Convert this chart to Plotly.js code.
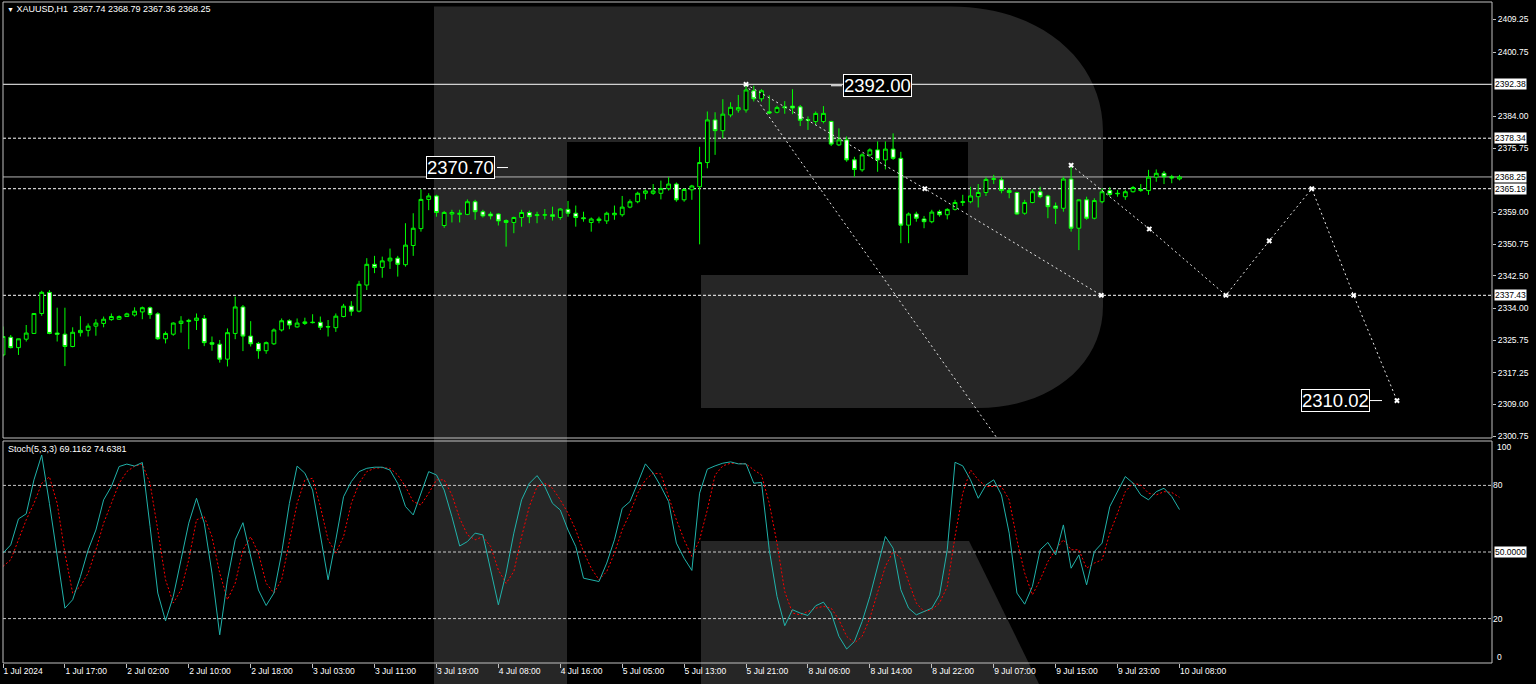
<!DOCTYPE html>
<html>
<head>
<meta charset="utf-8">
<script src="https://cdn.plot.ly/plotly-3.0.1.min.js"></script>
<style>
html,body{margin:0;padding:0;background:#000;overflow:hidden;}
#chart{width:1536px;height:684px;}
</style>
</head>
<body>
<div id="chart"></div>
<script>
// ---------------- DATA ----------------
const timeLabels = ['1 Jul 2024','1 Jul 17:00','2 Jul 02:00','2 Jul 10:00','2 Jul 18:00','3 Jul 03:00','3 Jul 11:00',
  '3 Jul 19:00','4 Jul 08:00','4 Jul 16:00','5 Jul 05:00','5 Jul 13:00','5 Jul 21:00','8 Jul 06:00','8 Jul 14:00',
  '8 Jul 22:00','9 Jul 07:00','9 Jul 15:00','9 Jul 23:00','10 Jul 08:00'];
const barsPerLabel = 8;

const open = [2321.9,2326.5,2323.8,2326.0,2327.5,2332.7,2338.2,2327.6,2327.3,2324.1,
2327.7,2328.3,2329.4,2330.1,2331.1,2331.2,2331.9,2332.3,2333.1,2334.2,
2332.6,2326.1,2327.3,2330.1,2330.6,2330.9,2331.4,2325.1,2324.7,2320.8,
2327.5,2334.4,2326.8,2324.9,2323.0,2324.8,2328.4,2330.8,2329.2,2330.1,
2330.3,2330.4,2329.3,2329.0,2331.9,2334.6,2333.3,2340.1,2345.5,2344.7,
2346.4,2347.1,2345.4,2350.4,2354.8,2362.4,2363.3,2355.6,2358.6,2358.5,
2358.5,2361.8,2359.2,2358.6,2358.6,2356.9,2356.4,2357.7,2359.0,2358.2,
2358.3,2358.4,2357.7,2359.8,2358.8,2357.6,2356.4,2356.9,2356.8,2358.4,
2358.4,2360.4,2361.8,2364.0,2364.0,2364.0,2365.2,2366.4,2362.3,2364.9,
2365.7,2372.0,2383.1,2380.3,2384.4,2385.7,2385.7,2390.7,2388.6,2385.2,
2385.1,2386.5,2386.7,2386.5,2383.2,2382.7,2382.7,2382.7,2376.6,2377.9,
2372.7,2370.1,2374.0,2375.3,2372.7,2375.5,2373.1,2355.7,2358.6,2357.3,
2356.6,2359.2,2358.4,2359.8,2361.6,2361.8,2363.1,2364.2,2367.6,2367.5,
2364.7,2364.2,2358.8,2361.6,2364.4,2363.3,2360.7,2360.1,2367.7,2354.9,
2362.3,2357.5,2361.8,2364.7,2364.0,2363.1,2364.4,2364.7,2364.7,2368.2,
2369.2,2368.3,2367.74];
const high = [2329.3,2327.1,2326.1,2329.7,2332.7,2338.6,2338.8,2334.2,2334.2,2329.1,
2332.0,2330.1,2331.2,2331.9,2332.7,2332.2,2332.9,2334.3,2334.5,2334.5,
2333.0,2328.0,2330.4,2332.0,2331.3,2332.7,2332.3,2326.7,2325.8,2328.8,
2337.1,2334.9,2330.7,2325.3,2325.4,2328.8,2331.4,2331.2,2331.4,2331.6,
2332.5,2331.9,2331.0,2332.7,2335.2,2335.9,2341.2,2347.1,2347.7,2347.5,
2349.6,2347.7,2356.2,2358.8,2365.0,2364.0,2363.6,2359.4,2359.7,2359.7,
2362.4,2362.3,2359.7,2359.2,2358.8,2357.2,2357.9,2359.7,2359.5,2359.2,
2359.9,2360.5,2360.1,2362.0,2360.8,2359.2,2357.7,2357.9,2359.2,2360.8,
2363.3,2362.4,2364.4,2365.0,2366.4,2367.3,2368.2,2366.8,2365.3,2366.2,
2376.1,2385.3,2385.1,2388.5,2387.7,2389.6,2392.38,2392.0,2391.1,2389.5,
2386.8,2388.0,2391.1,2387.0,2384.0,2385.3,2386.7,2382.9,2380.9,2378.8,
2373.5,2374.4,2375.7,2377.5,2377.5,2379.6,2374.8,2359.0,2359.2,2358.1,
2359.7,2359.7,2360.1,2362.3,2363.6,2365.7,2366.4,2368.2,2368.8,2368.3,
2365.3,2364.4,2362.3,2365.0,2365.7,2363.6,2361.6,2368.3,2371.3,2362.4,
2363.1,2362.7,2365.3,2365.6,2364.9,2364.9,2365.9,2366.4,2370.1,2370.2,
2369.8,2368.8,2368.79];
const low = [2321.5,2323.6,2321.9,2325.4,2327.4,2332.1,2327.3,2325.4,2319.0,2323.9,
2326.7,2326.7,2326.9,2329.1,2330.8,2331.0,2331.8,2331.9,2331.2,2331.3,
2325.8,2324.9,2326.9,2327.7,2323.4,2328.4,2324.2,2323.0,2319.9,2318.9,
2326.0,2322.9,2324.1,2320.9,2322.2,2324.5,2328.0,2328.6,2329.0,2329.7,
2330.1,2328.4,2326.7,2327.9,2331.7,2332.1,2333.0,2338.8,2343.2,2342.0,
2344.3,2342.3,2344.9,2347.7,2354.0,2359.6,2357.9,2355.0,2356.4,2356.4,
2358.3,2357.1,2357.7,2357.2,2355.6,2350.1,2353.6,2355.3,2356.2,2356.2,
2357.2,2356.9,2357.1,2357.9,2355.3,2356.6,2354.0,2356.2,2356.0,2357.1,
2357.9,2360.1,2361.4,2362.4,2363.6,2362.4,2364.7,2361.8,2361.8,2362.3,
2350.7,2370.5,2374.0,2378.3,2383.8,2385.0,2385.0,2387.9,2387.9,2384.6,
2384.8,2384.7,2384.6,2381.5,2380.5,2381.8,2382.2,2376.3,2376.3,2372.2,
2368.3,2369.6,2373.5,2369.6,2370.2,2372.7,2351.0,2351.0,2356.6,2354.9,
2356.2,2357.9,2357.2,2359.5,2360.7,2361.4,2360.3,2363.3,2366.4,2364.0,
2362.7,2358.4,2358.4,2361.4,2362.7,2357.5,2356.0,2359.2,2354.0,2349.2,
2357.1,2357.2,2361.4,2363.1,2363.1,2362.3,2364.2,2364.4,2363.6,2367.0,
2366.4,2366.6,2367.36];
const close = [2326.7,2323.8,2326.1,2327.6,2332.7,2338.2,2327.5,2327.3,2324.1,2327.8,
2328.3,2329.4,2330.2,2331.2,2331.9,2331.9,2332.6,2333.3,2334.2,2332.4,
2326.1,2327.5,2330.2,2330.7,2330.9,2331.5,2325.1,2324.7,2320.8,2327.7,
2334.4,2326.8,2324.8,2323.0,2325.1,2328.4,2330.8,2329.7,2330.2,2330.5,
2330.4,2329.1,2329.2,2332.0,2334.6,2333.3,2340.3,2345.5,2344.7,2346.4,
2347.1,2345.5,2350.5,2354.9,2362.4,2363.3,2359.0,2359.0,2359.0,2358.8,
2361.8,2359.2,2358.1,2358.1,2356.8,2356.4,2357.7,2359.0,2357.9,2358.4,
2358.4,2358.0,2359.9,2358.8,2357.7,2357.4,2357.3,2357.3,2358.8,2358.8,
2360.4,2361.8,2364.0,2364.6,2364.6,2365.2,2366.4,2362.3,2365.0,2365.9,
2372.0,2383.1,2380.3,2384.6,2386.4,2386.3,2390.9,2388.6,2390.7,2384.9,
2386.3,2386.3,2386.2,2383.0,2383.0,2384.8,2384.8,2376.8,2377.9,2372.7,
2370.2,2374.0,2375.3,2372.7,2375.5,2373.1,2355.7,2358.6,2357.5,2356.6,
2359.1,2358.4,2359.8,2361.6,2361.8,2363.3,2364.2,2367.6,2367.8,2364.7,
2364.2,2358.6,2361.6,2364.4,2363.1,2360.5,2360.1,2367.7,2354.9,2362.3,
2357.5,2362.1,2364.4,2363.7,2363.9,2364.4,2365.5,2365.0,2368.2,2369.2,
2368.3,2368.0,2368.25];

const stochMain = [49.5,53.2,64.9,67.2,82.5,93.7,71.9,47.9,24.7,28.5,
38.9,50.9,59.9,73.5,79.5,88.5,89.6,88.7,90.3,61.5,
31.5,19.0,30.0,46.5,63.0,74.2,63.0,40.5,12.7,37.5,
55.5,63.2,47.9,32.9,25.9,31.5,49.5,71.9,88.7,85.5,
77.9,56.9,37.5,55.5,74.9,81.7,86.2,87.7,88.2,88.2,
86.9,80.9,70.5,66.7,76.5,86.2,84.7,77.9,65.9,52.7,
54.7,58.5,57.7,41.9,26.2,40.5,58.5,73.5,80.9,84.4,
79.5,71.9,68.9,59.9,52.5,38.2,37.5,36.7,45.0,55.5,
69.7,72.7,81.0,89.7,85.5,79.5,72.7,54.0,47.2,41.7,
76.5,87.3,88.8,90.0,90.6,89.7,89.7,81.0,81.3,51.0,
30.0,16.8,24.0,22.5,21.4,25.8,27.4,22.5,12.0,6.3,
9.7,18.7,30.0,43.5,57.0,51.7,33.0,24.7,21.7,23.2,
24.7,30.7,51.0,90.4,88.8,82.5,74.2,80.2,82.5,75.7,
58.5,31.5,26.5,34.5,51.0,54.3,48.7,62.2,42.7,48.7,
35.2,50.2,54.0,70.5,77.2,84.0,81.0,75.7,73.5,77.2,
78.7,75.0,69.1162];
const stochSignal = [43.5,46.5,55.5,64.5,71.9,80.9,83.9,71.9,49.5,31.5,
34.5,40.5,50.9,63.0,71.9,80.9,86.2,88.7,89.6,80.9,
59.9,37.5,27.0,32.9,46.5,64.5,65.9,56.9,40.5,28.5,
35.9,50.9,56.9,49.5,35.9,31.5,37.5,55.5,71.9,82.5,
83.2,70.5,55.5,49.5,56.9,71.9,80.9,86.2,87.7,88.0,
87.7,84.7,79.5,72.7,71.2,76.5,82.5,82.5,75.7,65.2,
57.7,55.5,56.9,52.5,41.9,35.9,41.2,56.9,70.5,79.5,
80.9,78.7,73.5,67.5,59.9,50.2,42.7,37.5,41.2,49.5,
60.0,67.5,76.5,82.5,85.5,85.2,75.0,64.5,55.5,48.0,
55.5,69.0,84.7,88.8,90.0,89.7,89.7,87.0,84.7,72.0,
54.0,32.2,22.5,21.7,23.2,24.7,25.5,24.7,19.5,12.0,
9.0,12.0,20.2,31.5,43.5,50.2,47.2,36.7,27.0,23.2,
24.0,27.0,34.5,57.0,76.5,87.0,82.5,79.5,79.5,79.5,
73.5,55.5,40.5,30.7,37.5,45.7,51.0,55.5,51.0,51.0,
42.7,45.0,46.5,58.5,67.5,77.2,81.0,80.2,76.5,75.7,
77.2,76.8,74.6381];

const priceTicks = [2409.25,2400.75,2384.00,2375.75,2359.00,2350.75,2342.50,2334.00,2325.75,2317.25,2309.00,2300.75];
const solidLevels = [2392.38];
const dashedLevels = [2378.34, 2365.19, 2337.43];
const stochLevels = [80, 50, 20];

// analyst forecast drawing (bar index, price)
const fcLineABars = [96, 128.4];
const fcLineAPrices = [2392.38, 2300.3];
const fcLineBBars = [96, 119.1, 141.9];
const fcLineBPrices = [2392.38, 2365.19, 2337.43];
const fcZigBars = [138, 148.1, 158.0, 163.6, 169.1, 174.5, 180.1];
const fcZigPrices = [2371.3, 2354.7, 2337.43, 2351.6, 2365.19, 2337.43, 2310.02];
const bigLabelTexts = ['2392.00', '2370.70', '2310.02'];
const bigLabelPrices = [2392.00, 2370.70, 2310.02];

// ---------------- LAYOUT GEOMETRY ----------------
const FONT = 'Liberation Sans, Arial, sans-serif';
const PL = 3, PR = 1492, PT = 2, PB = 663;
const fx = p => (p - PL) / (PR - PL);
const fy = p => (PB - p) / (PB - PT);
const BAR_PX = 7.74;
const pxToBar = p => (p - PL) / BAR_PX;
const xMax = pxToBar(PR);
const mainDomain = [fy(438), 1];
const stochDomain = [0, fy(441)];
const mainRange = [2300.27, 2413.81];

const n = open.length;
const bars = open.map((_, i) => i);
const tickBars = timeLabels.map((_, k) => k * barsPerLabel);

// ---------------- TRACES ----------------
const traces = [];
traces.push({
  type: 'candlestick', x: bars, open: open, high: high, low: low, close: close,
  xaxis: 'x', yaxis: 'y',
  increasing: {line: {color: '#00ff00', width: 1}, fillcolor: '#000000'},
  decreasing: {line: {color: '#00ff00', width: 1}, fillcolor: '#ffffff'},
  whiskerwidth: 0, hoverinfo: 'skip', showlegend: false
});
const fcStyle = {color: '#e8e8e8', width: 1, dash: '2px,3px'};
traces.push({type: 'scatter', mode: 'lines', x: fcLineABars, y: fcLineAPrices, line: fcStyle, xaxis: 'x', yaxis: 'y', hoverinfo: 'skip', showlegend: false});
traces.push({type: 'scatter', mode: 'lines+markers', x: fcLineBBars, y: fcLineBPrices, line: fcStyle,
  marker: {symbol: 'x', size: 5, color: '#ffffff'}, xaxis: 'x', yaxis: 'y', hoverinfo: 'skip', showlegend: false});
traces.push({type: 'scatter', mode: 'lines+markers', x: fcZigBars, y: fcZigPrices, line: fcStyle,
  marker: {symbol: 'x', size: 5, color: '#ffffff'}, xaxis: 'x', yaxis: 'y', hoverinfo: 'skip', showlegend: false});
traces.push({type: 'scatter', mode: 'lines', x: bars, y: stochSignal, xaxis: 'x', yaxis: 'y2',
  line: {color: '#ff0000', width: 1, dash: '2px,2px'}, hoverinfo: 'skip', showlegend: false});
traces.push({type: 'scatter', mode: 'lines', x: bars, y: stochMain, xaxis: 'x', yaxis: 'y2',
  line: {color: '#20b2aa', width: 1}, hoverinfo: 'skip', showlegend: false});

// ---------------- SHAPES ----------------
const P = (x, y) => fx(x).toFixed(5) + ',' + fy(y).toFixed(5);
const logoPath = 'M' + P(434, 684) + ' L' + P(434, 6.5) + ' L' + P(951, 6.5) +
  ' C' + P(1040, 6.5) + ' ' + P(1103, 60) + ' ' + P(1103, 131) +
  ' L' + P(1103, 306) + ' C' + P(1103, 365) + ' ' + P(1050, 408) + ' ' + P(978, 408) +
  ' L' + P(701, 408) + ' L' + P(701, 275) + ' L' + P(968, 275) + ' L' + P(968, 142) +
  ' L' + P(567, 142) + ' L' + P(567, 684) + ' Z';
const legPath = 'M' + P(701, 541) + ' L' + P(969, 541) + ' L' + P(1039, 684) + ' L' + P(701, 684) + ' Z';

const shapes = [
  {type: 'path', xref: 'paper', yref: 'paper', path: logoPath, fillcolor: '#262626', line: {width: 0}, layer: 'below'},
  {type: 'path', xref: 'paper', yref: 'paper', path: legPath, fillcolor: '#262626', line: {width: 0}, layer: 'below'}
];
solidLevels.forEach(v => shapes.push({type: 'line', xref: 'paper', yref: 'y', x0: 0, x1: 1, y0: v, y1: v,
  line: {color: '#ffffff', width: 1}, layer: 'below'}));
shapes.push({type: 'line', xref: 'paper', yref: 'y', x0: 0, x1: 1, y0: close[n - 1], y1: close[n - 1],
  line: {color: '#b4b4b4', width: 1}, layer: 'below'});
dashedLevels.forEach(v => shapes.push({type: 'line', xref: 'paper', yref: 'y', x0: 0, x1: 1, y0: v, y1: v,
  line: {color: '#ffffff', width: 1, dash: '3px,2px'}, layer: 'below'}));
stochLevels.forEach(v => shapes.push({type: 'line', xref: 'paper', yref: 'y2', x0: 0, x1: 1, y0: v, y1: v,
  line: {color: '#c8c8c8', width: 1, dash: '3px,2px'}, layer: 'below'}));
// pane borders
shapes.push({type: 'rect', xref: 'paper', yref: 'paper', x0: 0, x1: 1, y0: mainDomain[0], y1: mainDomain[1],
  line: {color: '#c0c0c0', width: 1}, fillcolor: 'rgba(0,0,0,0)', layer: 'above'});
shapes.push({type: 'rect', xref: 'paper', yref: 'paper', x0: 0, x1: 1, y0: stochDomain[0], y1: stochDomain[1],
  line: {color: '#c0c0c0', width: 1}, fillcolor: 'rgba(0,0,0,0)', layer: 'above'});
// short leader dashes beside the big price labels
const leaders = [[pxToBar(831), pxToBar(842), bigLabelPrices[0]], [pxToBar(497), pxToBar(508), bigLabelPrices[1]], [pxToBar(1370), pxToBar(1382), bigLabelPrices[2]]];
leaders.forEach(l => shapes.push({type: 'line', xref: 'x', yref: 'y', x0: l[0], x1: l[1], y0: l[2], y1: l[2],
  line: {color: '#ffffff', width: 1}}));

// ---------------- ANNOTATIONS ----------------
const annotations = [];
annotations.push({xref: 'paper', yref: 'paper', x: fx(5), y: fy(9), xanchor: 'left', yanchor: 'middle', showarrow: false,
  text: '<span style="font-size:7px">▼</span> XAUUSD,H1\u00a0\u00a0' + [open[n-1], high[n-1], low[n-1], close[n-1]].map(v => v.toFixed(2)).join(' '),
  font: {family: FONT, size: 9, color: '#ffffff'}});
annotations.push({xref: 'paper', yref: 'paper', x: fx(6), y: fy(449), xanchor: 'left', yanchor: 'middle', showarrow: false,
  text: 'Stoch(5,3,3) ' + stochMain[n-1].toFixed(4) + ' ' + stochSignal[n-1].toFixed(4),
  font: {family: FONT, size: 9, color: '#ffffff'}});
const boxed = (yref, v, txt) => ({xref: 'paper', yref: yref, x: 1, y: v, xanchor: 'left', yanchor: 'middle', xshift: 2,
  showarrow: false, text: txt, bgcolor: '#ffffff', borderpad: 0, font: {family: FONT, size: 8.5, color: '#000000'}});
solidLevels.concat(dashedLevels).forEach(v => annotations.push(boxed('y', v, v.toFixed(2))));
annotations.push(boxed('y', close[n - 1], close[n - 1].toFixed(2)));
annotations.push(boxed('y2', 50, '50.0000'));
annotations.push({xref: 'paper', yref: 'y2', x: 1, y: 100, xanchor: 'left', yanchor: 'middle', xshift: 3, yshift: -6, showarrow: false,
  text: '100', font: {family: FONT, size: 8.5, color: '#ffffff'}});
annotations.push({xref: 'paper', yref: 'y2', x: 1, y: 0, xanchor: 'left', yanchor: 'middle', xshift: 3, yshift: 6, showarrow: false,
  text: '0', font: {family: FONT, size: 8.5, color: '#ffffff'}});
const bigCentersPx = [877.5, 460.5, 1335];
bigLabelTexts.forEach((t, i) => annotations.push({xref: 'x', yref: 'y', x: pxToBar(bigCentersPx[i]), y: bigLabelPrices[i],
  xanchor: 'center', yanchor: 'middle', showarrow: false, text: t, bgcolor: '#000000', bordercolor: '#ffffff',
  borderwidth: 1, borderpad: 0, font: {family: FONT, size: 18.5, color: '#ffffff'}}));

const axisFont = {family: FONT, size: 8.5, color: '#ffffff'};
const layout = {
  width: 1536, height: 684,
  margin: {l: PL, r: 1536 - PR, t: PT, b: 684 - PB, pad: 0},
  paper_bgcolor: '#000000', plot_bgcolor: 'rgba(0,0,0,0)',
  showlegend: false, hovermode: false,
  xaxis: {range: [0, xMax], anchor: 'y2', tickmode: 'array', tickvals: tickBars, ticktext: timeLabels,
    ticks: 'outside', ticklen: 4, tickcolor: '#c0c0c0', tickfont: axisFont, ticklabelposition: 'outside right',
    showgrid: false, zeroline: false, showline: false, rangeslider: {visible: false}, fixedrange: true},
  yaxis: {domain: mainDomain, range: mainRange, side: 'right', anchor: 'x', tickmode: 'array', tickvals: priceTicks,
    ticktext: priceTicks.map(v => v.toFixed(2)), ticks: 'outside', ticklen: 3, tickcolor: '#c0c0c0', tickfont: axisFont,
    showgrid: false, zeroline: false, showline: false, fixedrange: true},
  yaxis2: {domain: stochDomain, range: [0, 100], side: 'right', anchor: 'x', tickmode: 'array', tickvals: [80, 20],
    ticktext: ['80', '20'], ticks: '', tickfont: axisFont, showgrid: false, zeroline: false, showline: false, fixedrange: true},
  shapes: shapes, annotations: annotations
};

Plotly.newPlot('chart', traces, layout, {staticPlot: true, displayModeBar: false});
</script>
</body>
</html>
